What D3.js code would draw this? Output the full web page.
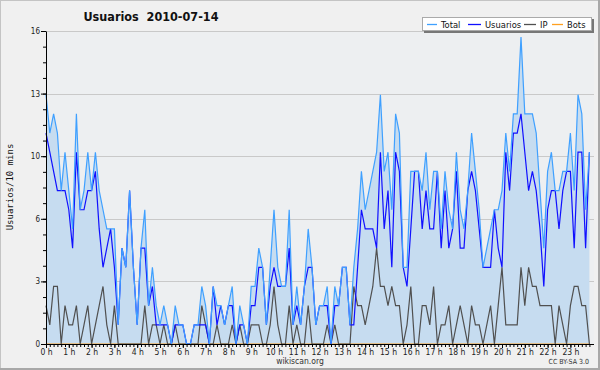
<!DOCTYPE html>
<html><head><meta charset="utf-8">
<script src="https://cdn.jsdelivr.net/npm/d3@7"></script>
<style>
html,body{margin:0;padding:0;background:#f0f0f0;}
svg{display:block;}
text{font-family:"DejaVu Sans Condensed","DejaVu Sans",sans-serif;}
</style></head>
<body>
<svg id="c" width="600" height="370"></svg>
<script>
// ---- data (10-minute buckets, 2010-07-14) ----
const hourLabels = ["0 h","1 h","2 h","3 h","4 h","5 h","6 h","7 h","8 h","9 h","10 h","11 h","12 h","13 h","14 h","15 h","16 h","17 h","18 h","19 h","20 h","21 h","22 h","23 h"];
const yTickLabels = ["0","3","6","10","13","16"];
const usuarios = [11,10,9,8,8,8,7,5,10,7,7,8,8,9,6,4,5,6,4,1,5,4,8,4,1,5,5,2,3,1,1,1,1,0,1,1,1,0,0,1,1,1,1,0,3,1,2,1,2,2,0,1,1,0,2,2,4,4,1,3,4,3,3,3,5,1,2,1,3,4,4,1,2,2,2,0,2,2,4,4,1,1,4,7,6,6,6,5,10,6,8,4,10,9,4,3,6,9,9,6,8,6,6,9,5,8,5,6,9,5,5,8,9,8,6,4,4,4,7,5,4,10,8,11,11,12,10,8,9,8,6,3,7,8,8,6,8,9,9,5,10,10,5,10];
const ip = [2,1,3,3,0,2,1,1,2,0,1,2,0,1,2,3,1,0,2,0,0,0,0,0,0,0,2,0,1,1,0,1,0,0,1,0,0,0,0,0,0,2,1,0,0,1,0,0,0,1,0,1,0,0,1,1,1,0,0,1,3,1,0,0,2,0,1,0,0,2,0,0,0,0,1,0,1,0,0,0,0,3,2,2,1,2,3,5,3,3,2,3,2,2,0,1,3,0,0,2,2,1,3,0,1,1,2,0,1,2,1,0,2,1,1,0,1,2,0,2,4,1,1,1,1,4,2,4,3,3,2,2,2,2,0,2,1,0,2,3,3,2,2,0];
const total = [13,11,12,11,8,10,8,6,12,7,8,10,8,10,8,7,6,6,6,1,5,4,8,4,1,5,7,2,4,2,1,2,1,0,2,1,1,0,0,1,1,3,2,0,3,2,2,1,2,3,0,2,1,0,3,3,5,4,1,4,7,4,3,3,7,1,3,1,3,6,4,1,2,2,3,0,3,2,4,4,1,4,6,9,7,8,9,10,13,9,10,7,12,11,4,4,9,9,9,8,10,7,9,9,6,9,7,6,10,7,6,8,11,9,7,4,5,6,7,7,8,11,9,12,12,16,12,12,12,11,8,5,9,10,8,8,9,9,11,8,13,12,7,10];
const bots = new Array(144).fill(0);
const seriesNames = ["Total","Usuarios","IP","Bots"];
const seriesColors = ["#3fa0ff","#1010ff","#505050","#ffa020"];
const yMax = 16.32;
const stepMinutes = 10;

// ---- drawing ----
const svg = d3.select("#c");
const L = 46, R = 593.2, T = 31, B = 344;
const x = d3.scaleLinear().domain([0, 1440]).range([L, R]);
const y = d3.scaleLinear().domain([0, yMax]).range([B, T]);

// outer background and frame
svg.append("rect").attr("x",0).attr("y",0).attr("width",600).attr("height",370).attr("fill","#f0f0f0");
svg.append("rect").attr("x",0.5).attr("y",0.5).attr("width",598).attr("height",368)
  .attr("fill","none").attr("stroke","#c4c4c4").attr("stroke-width",1);
svg.append("line").attr("x1",599).attr("x2",599).attr("y1",0).attr("y2",370).attr("stroke","#a8a8a8").attr("stroke-width",2);
svg.append("line").attr("x1",0).attr("x2",600).attr("y1",369).attr("y2",369).attr("stroke","#a8a8a8").attr("stroke-width",2);

// plot background
svg.append("rect").attr("x",L).attr("y",T).attr("width",594-L).attr("height",B-T).attr("fill","#edeff1");

// gridlines
const yTickVals = yTickLabels.map((d,i)=> yMax*i/(yTickLabels.length-1));
svg.append("g").selectAll("line").data(yTickVals.slice(1)).join("line")
  .attr("x1",L).attr("x2",594).attr("y1",d=>Math.round(y(d))+0.5).attr("y2",d=>Math.round(y(d))+0.5)
  .attr("stroke","#c9c9c9").attr("stroke-width",1);

const xs = (d,i)=> x(i*stepMinutes);
// area under total
svg.append("path").datum(total)
  .attr("d", d3.area().x(xs).y0(y(0)).y1(d=>y(d)))
  .attr("fill","#c6dcf0");

const seriesData = [total, usuarios, ip, bots];
[3,2,1,0].forEach(k=>{
  svg.append("path").datum(seriesData[k])
    .attr("d", d3.line().x(xs).y(d=>y(d)))
    .attr("fill","none").attr("stroke",seriesColors[k]).attr("stroke-width",1.2)
    .attr("stroke-linejoin","miter");
});

// y axis
const yAxis = d3.axisLeft(y).tickValues(yTickVals).tickFormat((d,i)=>yTickLabels[i]).tickSize(5).tickSizeOuter(0).tickPadding(1);
const gy = svg.append("g").attr("transform",`translate(${L},0)`).call(yAxis);
gy.selectAll("text").attr("font-size",8).attr("fill","#222");
gy.select(".domain").attr("stroke","#000");
const yMinor = d3.range(0,21).map(i=>yMax*i/20);
svg.append("g").attr("transform",`translate(${L},0)`)
  .call(d3.axisLeft(y).tickValues(yMinor).tickFormat("").tickSize(3).tickSizeOuter(0))
  .call(g=>g.select(".domain").remove());

// x axis
const xAxis = d3.axisBottom(x).tickValues(d3.range(0,24).map(h=>h*60)).tickFormat((d,i)=>hourLabels[i]).tickSize(4).tickSizeOuter(0).tickPadding(1);
const gx = svg.append("g").attr("transform",`translate(0,${B})`).call(xAxis);
gx.selectAll("text").attr("font-size",8.5).attr("fill","#222");
gx.select(".domain").attr("d",`M${L},0.5H594`).attr("stroke","#000");
svg.append("g").attr("transform",`translate(0,${B})`)
  .call(d3.axisBottom(x).tickValues(d3.range(0,1440,stepMinutes)).tickFormat("").tickSize(3).tickSizeOuter(0))
  .call(g=>g.select(".domain").remove());

// title
svg.append("text").attr("x",151).attr("y",21).attr("text-anchor","middle")
  .attr("font-size",12.5).attr("font-weight","bold").attr("fill","#111")
  .attr("xml:space","preserve").style("white-space","pre").text("Usuarios  2010-07-14");

// y label
svg.append("text").attr("transform","translate(13,187) rotate(-90)").attr("text-anchor","middle")
  .attr("font-size",9).style("font-family","'DejaVu Sans Mono',monospace").attr("fill","#111")
  .text("Usuarios/10 mins");

// footer
svg.append("text").attr("x",300).attr("y",364).attr("text-anchor","middle").attr("font-size",8.5).attr("fill","#333").text("wikiscan.org");
svg.append("text").attr("x",589).attr("y",364).attr("text-anchor","end").attr("font-size",7).attr("fill","#333").text("CC BY-SA 3.0");

// legend
const lg = svg.append("g");
lg.append("rect").attr("x",424).attr("y",19).attr("width",170).attr("height",14).attr("fill","#777");
lg.append("rect").attr("x",422.5).attr("y",17.5).attr("width",169).attr("height",13).attr("fill","#fff").attr("stroke","#aaa");
const legendX = [427, 468, 524, 552];
const legendW = [10, 13, 12, 11];
seriesNames.forEach((n,k)=>{
  lg.append("line").attr("x1",legendX[k]).attr("x2",legendX[k]+legendW[k]).attr("y1",24.5).attr("y2",24.5)
    .attr("stroke",seriesColors[k]).attr("stroke-width",1.3);
  lg.append("text").attr("x",legendX[k]+legendW[k]+4).attr("y",28).attr("font-size",9.3).attr("fill","#111").text(n);
});
</script>
</body></html>
